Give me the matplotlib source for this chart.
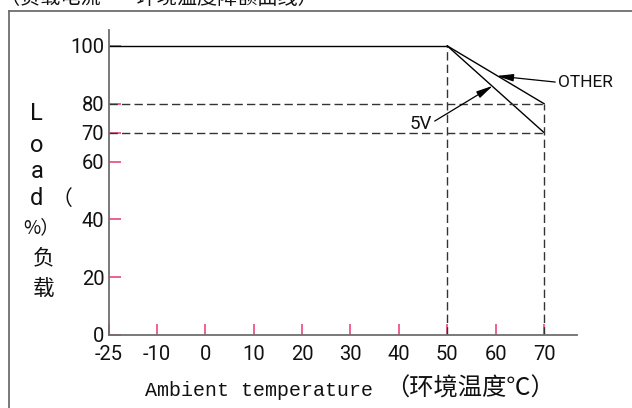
import matplotlib
matplotlib.use("Agg")
import matplotlib.pyplot as plt
from matplotlib.lines import Line2D
import numpy as np

# derating data
flat_temp = [-25, 50]
flat_load = [100, 100]
other_temp = [50, 70]
other_load = [100, 80]
v5_temp = [50, 70]
v5_load = [100, 70]

xticks = [-25, -10, 0, 10, 20, 30, 40, 50, 60, 70]
yticks = [0, 20, 40, 60, 70, 80, 100]

title_txt = "（负载电流——环境温度降额曲线）"
xlabel_en = "Ambient temperature"
xlabel_cn = "（环境温度℃）"

narrow = ["Roboto", "DejaVu Sans"]
cjk = ["Noto Sans CJK SC", "DejaVu Sans"]
pink = "#e8386e"
dark = "#111111"
gray = "#6e6e6e"


# -25 sits closer to -10 than the scale says (broken axis on the drawing)
def fwd(x):
    x = np.asarray(x, dtype=float)
    return np.where(x < -10, -10 + (x + 10) * (2 / 3), x)


def inv(u):
    u = np.asarray(u, dtype=float)
    return np.where(u < -10, -10 + (u + 10) * 1.5, u)


fig = plt.figure(figsize=(6.32, 4.08), dpi=100)
ax = fig.add_axes([108.5 / 632, 73 / 408, 468.5 / 632, 305 / 408])
ax.set_xscale("function", functions=(fwd, inv))
ax.set_xlim(-25, 76.8)
ax.set_ylim(0, 105.5)

# curves
ax.plot(flat_temp, flat_load, color="black", lw=1.0)
ax.plot(other_temp, other_load, color="black", lw=1.0)
ax.plot(v5_temp, v5_load, color="black", lw=1.0)

# dashed guides
dash = dict(color="#333333", lw=1.0, linestyle=(0, (6, 3)))
ax.plot([-25, other_temp[1]], [other_load[1], other_load[1]], **dash)
ax.plot([-25, v5_temp[1]], [v5_load[1], v5_load[1]], **dash)
ax.plot([other_temp[0], other_temp[0]], [0, 100], **dash)
ax.plot([other_temp[1], other_temp[1]], [0, other_load[1]], **dash)

# axes styling
for s in ["top", "right"]:
    ax.spines[s].set_visible(False)
for s in ["left", "bottom"]:
    ax.spines[s].set_color(gray)
    ax.spines[s].set_linewidth(1.3)
    ax.spines[s].set_zorder(5)

ax.set_xticks(xticks)
ax.set_xticklabels([str(t) for t in xticks])
ax.set_yticks(yticks)
ax.set_yticklabels([str(t) for t in yticks])
ax.xaxis.set_minor_locator(matplotlib.ticker.NullLocator())
ax.tick_params(axis="x", direction="in", length=8, width=1.1, color=pink,
               pad=7, labelcolor=dark)
ax.tick_params(axis="y", direction="in", length=8.5, width=1.1, color=pink,
               pad=3, labelcolor=dark)
for lab in ax.get_xticklabels() + ax.get_yticklabels():
    lab.set_fontfamily(narrow)
    lab.set_fontsize(14.5)

# annotations
arrow = dict(arrowstyle="-|>,head_length=1.0,head_width=0.22", color="black",
             lw=0.9, shrinkA=0, shrinkB=0)
ax.annotate("", xy=(60.2, 89.6), xytext=(72.3, 87.5), arrowprops=arrow,
            annotation_clip=False)
ax.text(72.9, 87.5, "OTHER", fontfamily=narrow, fontsize=12.5, color=dark,
        ha="left", va="center", clip_on=False)
ax.annotate("", xy=(59.4, 86.2), xytext=(47.4, 74.0), arrowprops=arrow,
            annotation_clip=False)
ax.text(46.8, 73.0, "5V", fontfamily=narrow, fontsize=13.5, color=dark,
        ha="right", va="center")

# outer frame (open on the right/bottom)
fig.add_artist(Line2D([9 / 632, 9 / 632], [0, 1 - 11 / 408], color=gray,
                      lw=1.3, transform=fig.transFigure))
fig.add_artist(Line2D([9 / 632, 1], [1 - 11 / 408, 1 - 11 / 408], color=gray,
                      lw=1.3, transform=fig.transFigure))

# title, cut off at the top
fig.text(0, 1 + 1.5 / 408, title_txt, fontfamily=cjk, fontsize=14.5,
         color=dark, ha="left", va="center")

# stacked y label
def px(x, y):
    return x / 632, 1 - y / 408

for ch, x, y, fam, fs in [("L", 36, 113, narrow, 17), ("o", 37, 145, narrow, 17),
                          ("a", 37, 171, narrow, 17), ("d", 37, 198, narrow, 17),
                          ("（", 62, 199, cjk, 15), ("%）", 41, 228, cjk, 13.5),
                          ("负", 44, 258, cjk, 15.5), ("载", 44, 289, cjk, 15.5)]:
    fx, fy = px(x, y)
    fig.text(fx, fy, ch, fontfamily=fam, fontsize=fs, color=dark,
             ha="center", va="center")

# x label
fx, fy = px(145, 390)
fig.text(fx, fy, xlabel_en, fontfamily=["Liberation Mono", "DejaVu Sans Mono"],
         fontsize=14.4, color=dark, ha="left", va="center")
fx, fy = px(470, 389)
fig.text(fx, fy, xlabel_cn, fontfamily=cjk, fontsize=17.5, color=dark,
         ha="center", va="center")

fig.savefig("out.png", dpi=100)
